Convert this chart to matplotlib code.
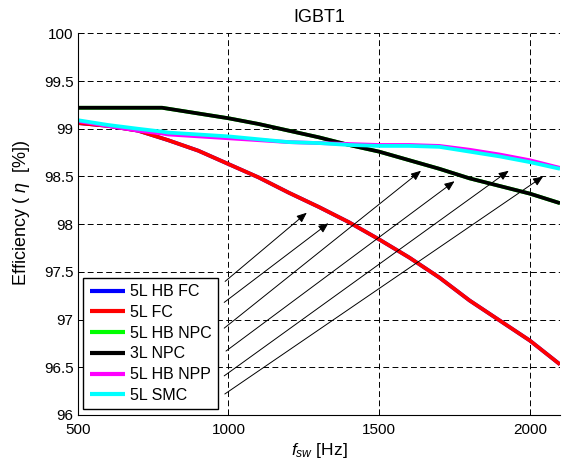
import matplotlib
matplotlib.use("Agg")
import matplotlib.pyplot as plt
from matplotlib.patches import ArrowStyle

plt.rcParams['font.family'] = ['Liberation Sans', 'DejaVu Sans']
plt.rcParams['mathtext.fontset'] = 'custom'
plt.rcParams['mathtext.rm'] = 'Liberation Sans'
plt.rcParams['mathtext.it'] = 'Liberation Sans:italic'
plt.rcParams['mathtext.bf'] = 'Liberation Sans:bold'

# ---- data ----
freq = [500, 600, 700, 780, 800, 900, 1000, 1100, 1200, 1300, 1400, 1500,
        1600, 1700, 1800, 1900, 2000, 2100]
eff_5L_HB_FC = [99.06, 99.03, 98.98, 98.90, 98.88, 98.77, 98.63, 98.49, 98.33, 98.18,
                98.02, 97.84, 97.65, 97.44, 97.20, 96.99, 96.78, 96.53]
eff_5L_FC = [99.06, 99.03, 98.98, 98.90, 98.88, 98.77, 98.63, 98.49, 98.33, 98.18,
             98.02, 97.84, 97.65, 97.44, 97.20, 96.99, 96.78, 96.53]
eff_5L_HB_NPC = [99.22, 99.22, 99.22, 99.22, 99.21, 99.16, 99.11, 99.05, 98.98, 98.91,
                 98.83, 98.76, 98.67, 98.58, 98.48, 98.40, 98.32, 98.22]
eff_3L_NPC = [99.22, 99.22, 99.22, 99.22, 99.21, 99.16, 99.11, 99.05, 98.98, 98.91,
              98.83, 98.76, 98.67, 98.58, 98.48, 98.40, 98.32, 98.22]
eff_5L_HB_NPP = [99.08, 99.03, 98.98, 98.95, 98.94, 98.92, 98.90, 98.88, 98.86, 98.85,
                 98.84, 98.83, 98.83, 98.82, 98.78, 98.73, 98.67, 98.59]
eff_5L_SMC = [99.09, 99.04, 99.00, 98.97, 98.96, 98.94, 98.92, 98.89, 98.86, 98.85,
              98.83, 98.82, 98.82, 98.81, 98.76, 98.71, 98.65, 98.58]

series_labels = ['5L HB FC', '5L FC', '5L HB NPC', '3L NPC', '5L HB NPP', '5L SMC']
series_colors = ['#0000ff', '#ff0000', '#00ff00', '#000000', '#ff00ff', '#00ffff']
series_values = [eff_5L_HB_FC, eff_5L_FC, eff_5L_HB_NPC, eff_3L_NPC, eff_5L_HB_NPP, eff_5L_SMC]

arrow_start_x = [989, 986, 986, 992, 986, 988]
arrow_start_y = [97.40, 97.18, 96.91, 96.67, 96.41, 96.22]
arrow_end_x = [1260, 1332, 1639, 1750, 1930, 2044]
arrow_end_y = [98.12, 98.01, 98.56, 98.45, 98.56, 98.50]

xticks = [500, 1000, 1500, 2000]
yticks = [96, 96.5, 97, 97.5, 98, 98.5, 99, 99.5, 100]
ytick_labels = ['96', '96.5', '97', '97.5', '98', '98.5', '99', '99.5', '100']

# ---- figure ----
fig = plt.figure(figsize=(5.74, 4.63), dpi=100)
ax = fig.add_axes([0.1354, 0.1037, 0.8402, 0.8243])

for vals, lab, col in zip(series_values, series_labels, series_colors):
    ax.plot(freq, vals, color=col, lw=2.7, label=lab, solid_capstyle='butt')

style = ArrowStyle('-|>', head_length=0.6, head_width=0.25)
for sx, sy, ex, ey in zip(arrow_start_x, arrow_start_y, arrow_end_x, arrow_end_y):
    ax.annotate('', xy=(ex, ey), xytext=(sx, sy),
                arrowprops=dict(arrowstyle=style, color='k', lw=0.7,
                                shrinkA=0, shrinkB=0, mutation_scale=10))

ax.set_xlim(500, 2100)
ax.set_ylim(96, 100)
ax.set_xticks(xticks)
ax.set_yticks(yticks)
ax.set_yticklabels(ytick_labels)
ax.tick_params(direction='in', labelsize=11, length=4, width=0.6, colors='k')
ax.tick_params(axis='x', pad=6)
ax.tick_params(axis='y', pad=3)

grid_kw = dict(color='k', lw=0.7, dashes=(6, 3.5))
for xv in xticks[1:]:
    ax.axvline(xv, **grid_kw, zorder=0)
for yv in yticks[1:]:
    ax.axhline(yv, **grid_kw, zorder=0)
ax.axvline(2100, **grid_kw, zorder=0)

ax.spines['top'].set_visible(False)
ax.spines['right'].set_visible(False)
ax.spines['left'].set_linewidth(0.8)
ax.spines['bottom'].set_linewidth(0.8)

ax.set_title('IGBT1', fontsize=13, pad=8)
ax.set_xlabel(r'$f_{sw}$ [Hz]', fontsize=12.5)
ax.xaxis.set_label_coords(0.5, -0.068)
ax.set_ylabel(r'Efficiency ( $\eta$  [%])', fontsize=13)
ax.yaxis.set_label_coords(-0.094, 0.53)

leg = ax.legend(loc='lower left', bbox_to_anchor=(0.0116, 0.015), borderaxespad=0,
                fancybox=False, edgecolor='k', fontsize=11.5, handlelength=2.2,
                handletextpad=0.3, labelspacing=0.36, borderpad=0.4, framealpha=1)
leg.get_frame().set_linewidth(1.0)
for line in leg.get_lines():
    line.set_linewidth(3)

fig.savefig('out.png', dpi=100)
